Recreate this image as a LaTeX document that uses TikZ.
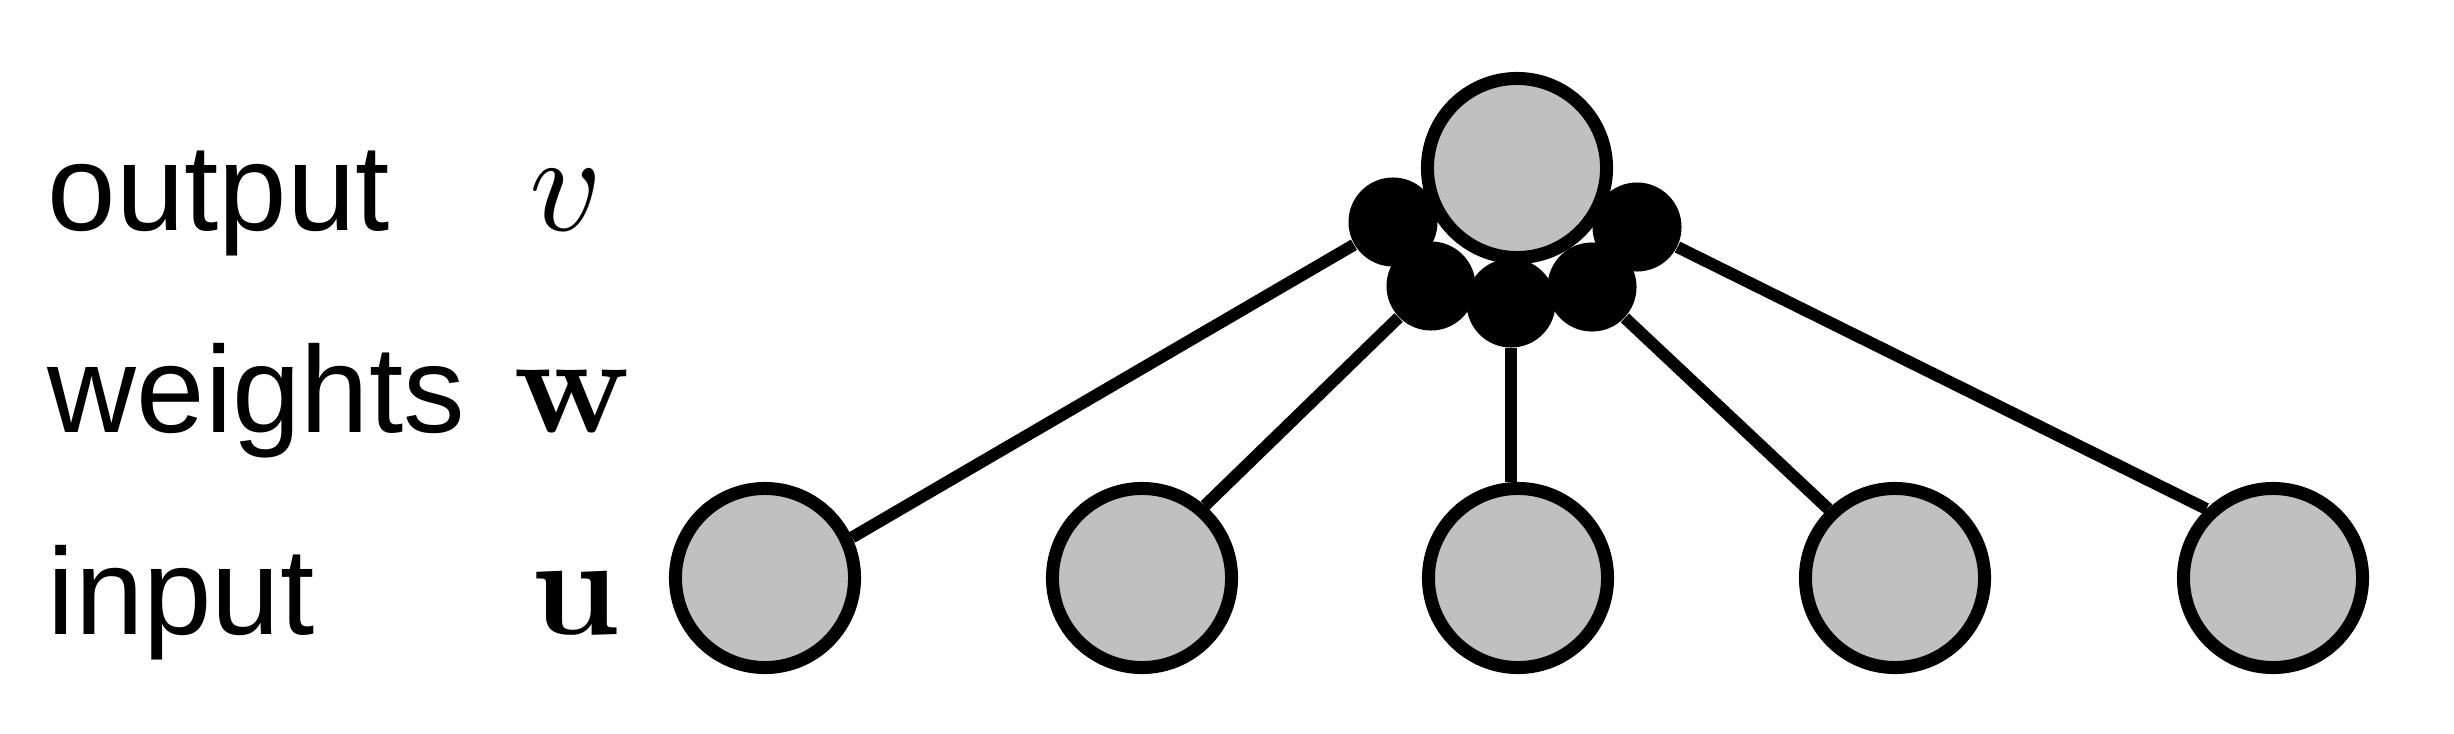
\documentclass[tikz,border=0pt]{standalone}
\usepackage{amsmath,amssymb}
\usepackage{graphicx}
\usepackage[no-math]{fontspec}
\setmainfont{Liberation Sans}
\usepackage{tikz}
\usetikzlibrary{positioning}
\definecolor{unitgray}{RGB}{192,192,192}
\newcommand{\bigsym}[1]{\scalebox{4.0}{$#1$}}

\begin{document}
\begin{tikzpicture}[
    x=0.01cm, y=-0.01cm,
    unit/.style={circle, draw, line width=0.13cm, fill=unitgray, minimum size=1.79cm, inner sep=0pt},
    weight/.style={circle, fill=black, minimum size=0.89cm, inner sep=0pt},
    link/.style={line width=0.12cm},
    label/.style={anchor=base west, inner sep=0pt, font=\fontsize{35}{40}\selectfont},
    sym/.style={anchor=base, inner sep=0pt}
]
    \useasboundingbox (0,0) rectangle (2454,733);

    % Row labels
    \node[label] (lout) at (47,230) {output};
    \node[label] (lw) at (47,432) {weights};
    \node[label] (lin) at (47,634) {input};
    \node[sym] (sv) at (566,230) {\bigsym{v}};
    \node[sym] (sw) at (573,432) {\bigsym{\mathbf{w}}};
    \node[sym] (su) at (575,634) {\bigsym{\mathbf{u}}};

    % Input units
    \node[unit] (in1) at (765,578) {};
    \node[unit] (in2) at (1142,578) {};
    \node[unit] (in3) at (1518,578) {};
    \node[unit] (in4) at (1895,578) {};
    \node[unit] (in5) at (2273,578) {};

    % Weights
    \node[weight] (w1) at (1393,222) {};
    \node[weight] (w5) at (1637,227) {};
    \node[weight] (w2) at (1431,286) {};
    \node[weight] (w4) at (1592,287) {};
    \node[weight] (w3) at (1511,303) {};

    % Output unit
    \node[unit] (out) at (1517,168) {};

    % Connections
    \draw[link] (in1.25) -- (w1);
    \draw[link] (in2.49) -- (w2);
    \draw[link] (w3) -- (w3 |- in3.north);
    \draw[link] (in4.134) -- (w4);
    \draw[link] (in5.134) -- (w5);

\end{tikzpicture}
\end{document}
